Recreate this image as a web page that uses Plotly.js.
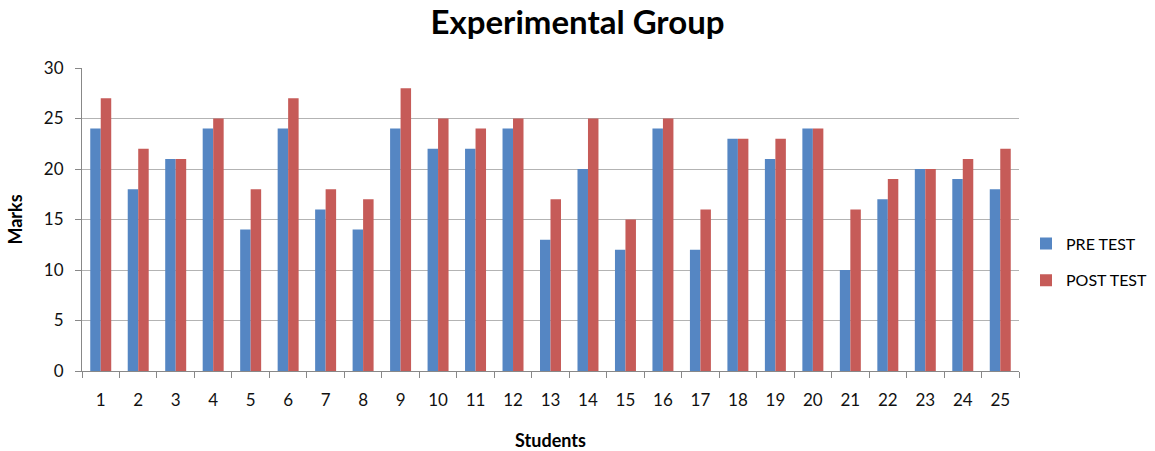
<!DOCTYPE html>
<html>
<head>
<meta charset="utf-8">
<script src="https://cdn.plot.ly/plotly-3.0.1.min.js"></script>
<style>html,body{margin:0;padding:0;background:#fff;}#chart{width:1155px;height:451px;}</style>
</head>
<body>
<div id="chart"></div>
<script>
const students = ["1","2","3","4","5","6","7","8","9","10","11","12","13","14","15","16","17","18","19","20","21","22","23","24","25"];
const preTest  = [24,18,21,24,14,24,16,14,24,22,22,24,13,20,12,24,12,23,21,24,10,17,20,19,18];
const postTest = [27,22,21,25,18,27,18,17,28,25,24,25,17,25,15,25,16,23,23,24,16,19,20,21,22];
const yTicks = [0,5,10,15,20,25,30];

const FONT = "Lato, 'Open Sans', sans-serif";

const traces = [
  {type:"bar", name:"PRE TEST", x:students, y:preTest, legendgroup:"a",
   marker:{color:"#5586C3", line:{width:0}}},
  {type:"bar", name:"POST TEST", x:students, y:postTest, legendgroup:"b",
   marker:{color:"#C65B58", line:{width:0}}}
];

const layout = {
  width:1155, height:451,
  margin:{l:82, r:136, t:68, b:80},
  paper_bgcolor:"#fff", plot_bgcolor:"#fff",
  font:{family:FONT, color:"#000", size:17},
  title:{text:"<b>Experimental Group</b>", font:{family:FONT, size:33, color:"#000"},
         x:0.5, xref:"container", y:0.95, yref:"container", yanchor:"middle"},
  barmode:"group", bargap:0.44, bargroupgap:0,
  showlegend:true,
  legend:{xref:"container", yref:"container", x:1026/1155, xanchor:"left",
          y:(451-262)/451, yanchor:"middle", tracegroupgap:13,
          font:{family:FONT, size:16, color:"#000"}, itemwidth:30, bgcolor:"rgba(0,0,0,0)"},
  xaxis:{type:"category", tickson:"boundaries", ticks:"outside", ticklen:6, tickcolor:"#888",
         showline:true, linecolor:"#888", linewidth:1, showgrid:false, automargin:false,
         ticklabelstandoff:14, tickfont:{family:FONT, size:17, color:"#111"},
         title:{text:"<b>Students</b>", font:{family:FONT, size:18, color:"#000"}, standoff:24}},
  yaxis:{range:[0,30], tickvals:yTicks, ticks:"outside", ticklen:6, tickcolor:"#888",
         showline:true, linecolor:"#888", linewidth:1, automargin:false,
         showgrid:true, gridcolor:"#b3b3b3", gridwidth:1, zeroline:false,
         ticklabelstandoff:8, tickfont:{family:FONT, size:17, color:"#111"},
         title:{text:"<b>Marks</b>", font:{family:FONT, size:18, color:"#000"}, standoff:16}}
};

Plotly.newPlot("chart", traces, layout, {displayModeBar:false, staticPlot:true});
</script>
</body>
</html>
